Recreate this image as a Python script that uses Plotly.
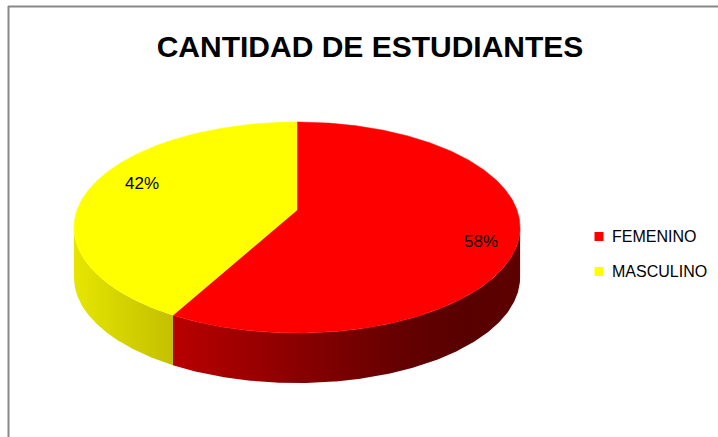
import numpy as np
import plotly.graph_objects as go

# ---------------- data ----------------
categories = ["FEMENINO", "MASCULINO"]
values = [58, 42]
top_colors = ["#FF0000", "#FFFF00"]
side_scales = [
    [[0.0, "#B80000"], [0.17, "#A20000"], [0.37, "#880000"], [0.66, "#640000"], [0.85, "#580000"], [1.0, "#5E0000"]],
    [[0.0, "#E6E600"], [0.5, "#D4D200"], [1.0, "#C4C000"]],
]
title_text = "CANTIDAD DE ESTUDIANTES"

# ---------------- geometry (style) ----------------
W, H = 718, 437
CX, CY = 297.0, 210.0      # projected pie centre
A, B, K = 220.0, 102.6, 0.166  # perspective ellipse params
T = 50.0                   # side thickness

def top_pt(theta_deg, r=1.0):
    t = np.radians(theta_deg)
    d = 1 + K * r * np.cos(t)
    return CX + A * r * np.sin(t) / d, CY - B * r * np.cos(t) / d

th_right = np.degrees(np.arccos(-K))
th_left = 360 - th_right

total = float(sum(values))
angles = np.concatenate([[0], np.cumsum(values) / total * 360.0])

fig = go.Figure()

# sides
for i in range(len(values)):
    a0, a1 = angles[i], angles[i + 1]
    lo, hi = max(a0, th_right), min(a1, th_left)
    if hi <= lo:
        continue
    th = np.linspace(lo, hi, 200)
    xt, yt = top_pt(th)
    xs = np.concatenate([xt, xt[::-1], [xt[0]]])
    ys = np.concatenate([yt, yt[::-1] + T, [yt[0]]])
    fig.add_trace(go.Scatter(
        x=xs, y=ys, mode="lines", fill="toself",
        line=dict(width=0, color="rgba(0,0,0,0)"),
        fillgradient=dict(type="horizontal", colorscale=side_scales[i],
                          start=float(xs.min()), stop=float(xs.max())),
        hoverinfo="skip", showlegend=False))

# top faces
for i in range(len(values)):
    a0, a1 = angles[i], angles[i + 1]
    th = np.linspace(a0, a1, 300)
    xt, yt = top_pt(th)
    xs = np.concatenate([[CX], xt, [CX]])
    ys = np.concatenate([[CY], yt, [CY]])
    fig.add_trace(go.Scatter(
        x=xs, y=ys, mode="lines", fill="toself", fillcolor=top_colors[i],
        line=dict(width=0.5, color=top_colors[i]),
        hoverinfo="skip", showlegend=False, name=categories[i]))

# percentage labels
label_r = [0.8, 0.75]
label_shift = [(8, 10), (0, -8)]
for i in range(len(values)):
    mid = (angles[i] + angles[i + 1]) / 2
    lx, ly = top_pt(mid, label_r[i])
    pct = round(values[i] / total * 100)
    fig.add_annotation(x=lx + label_shift[i][0], y=ly + label_shift[i][1],
                       text=f"{pct}%", showarrow=False,
                       font=dict(family="Liberation Sans, Arial, sans-serif", size=17, color="#000000"))

# legend (markers + text)
leg_y = [236.5, 271.5]
fig.add_trace(go.Scatter(
    x=[599] * len(categories), y=leg_y, mode="markers",
    marker=dict(symbol="square", size=9, color=top_colors, line=dict(width=0)),
    hoverinfo="skip", showlegend=False, cliponaxis=False))
for i, cat in enumerate(categories):
    fig.add_annotation(x=610, y=leg_y[i], text=cat, showarrow=False,
                       xanchor="left", yanchor="middle",
                       font=dict(family="Liberation Sans, Arial, sans-serif", size=16, color="#000000"))

# border
fig.add_shape(type="line", x0=8, x1=W + 5, y0=6.5, y1=6.5, line=dict(color="#888888", width=2))
fig.add_shape(type="line", x0=8.5, x1=8.5, y0=6, y1=H + 5, line=dict(color="#888888", width=2))

fig.update_layout(
    width=W, height=H,
    margin=dict(l=0, r=0, t=0, b=0),
    paper_bgcolor="white", plot_bgcolor="white",
    xaxis=dict(range=[0, W], visible=False, fixedrange=True),
    yaxis=dict(range=[H, 0], visible=False, fixedrange=True),
    title=dict(text=f"<b>{title_text}</b>", x=370 / W, xanchor="center",
               y=1 - 46 / H, yanchor="middle", yref="container",
               font=dict(family="Liberation Sans, Arial, sans-serif", size=30, color="#000000")),
    showlegend=False,
)

fig.write_html("out.html", config={"displayModeBar": False},
               post_script="document.body.style.margin='0';document.body.style.overflow='hidden';")
